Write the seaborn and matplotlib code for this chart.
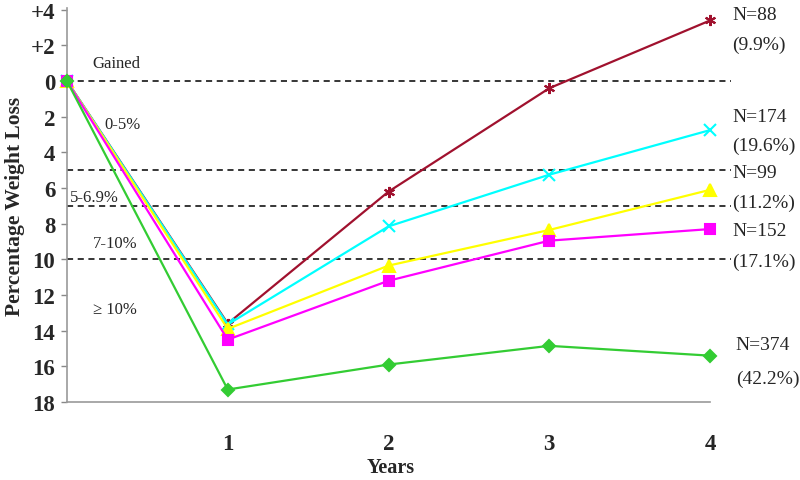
import matplotlib
matplotlib.use("Agg")
import matplotlib.pyplot as plt
import seaborn as sns
import pandas as pd

years = [0, 1, 2, 3, 4]
gained_vals = [0, 13.6, 6.2, 0.4, -3.4]
loss_0_5 = [0, 13.65, 8.15, 5.25, 2.75]
loss_5_7 = [0, 13.9, 10.35, 8.35, 6.1]
loss_7_10 = [0, 14.5, 11.2, 8.95, 8.3]
loss_10 = [0, 17.3, 15.9, 14.85, 15.4]

series_names = ["N=88", "N=174", "N=99", "N=152", "N=374"]
series_pcts = ["(9.9%)", "(19.6%)", "(11.2%)", "(17.1%)", "(42.2%)"]
series_vals = [gained_vals, loss_0_5, loss_5_7, loss_7_10, loss_10]
colors = ["#A0112E", "#00FFFF", "#FFFF00", "#FF00FF", "#33CC33"]
markers = [(6, 2, 0), "x", "^", "s", "D"]
marker_sizes = [8, 8, 8, 7, 6]

zone_bounds = [0, 5, 7, 10]
zone_labels = ["Gained", "0-5%", "5-6.9%", "7-10%", "\u2265 10%"]
zone_label_y = [-1.0, 2.4, 6.5, 9.1, 12.8]
zone_label_x = [0.16, 0.23, 0.02, 0.16, 0.16]

ytick_vals = [-4, -2, 0, 2, 4, 6, 8, 10, 12, 14, 16, 18]
ytick_labels = ["+4", "+2", "0", "2", "4", "6", "8", "10", "12", "14", "16", "18"]
xtick_vals = [1, 2, 3, 4]

sns.set_style("white")
plt.rcParams["font.family"] = ["Liberation Serif", "DejaVu Serif"]

fig = plt.figure(figsize=(8, 4.81), dpi=100)
ax = fig.add_axes([67 / 800, 1 - 403 / 481, (710 - 67) / 800, (403 - 9) / 481])

for name, vals, c, m, ms in zip(series_names, series_vals, colors, markers, marker_sizes):
    df = pd.DataFrame({"Year": years, "Loss": vals})
    sns.lineplot(data=df, x="Year", y="Loss", ax=ax, color=c, marker=m,
                 markersize=ms, markeredgecolor=c, markeredgewidth=1.5,
                 linewidth=1.6, clip_on=False, zorder=3)

for b in zone_bounds:
    ax.axhline(b, xmin=0, xmax=1.033, color="black", linestyle=(0, (4, 3)),
               linewidth=1.1, clip_on=False, zorder=2)

for lab, lx, ly in zip(zone_labels, zone_label_x, zone_label_y):
    ax.text(lx, ly, lab, fontsize=12, ha="left", va="center")

# N labels on the right
n_label_pos = [(-3.75, -2.05), (2.0, 3.6), (5.1, 6.8), (8.4, 10.1), (14.8, 16.7)]
n_label_x = [4.14, 4.14, 4.14, 4.14, 4.16]
for name, pct, (y1, y2), nx in zip(series_names, series_pcts, n_label_pos, n_label_x):
    ax.text(nx, y1, name, fontsize=14, ha="left", va="center", clip_on=False)
    ax.text(nx, y2, pct, fontsize=14, ha="left", va="center", clip_on=False)

ax.set_xlim(0, 4)
ax.set_ylim(18, -4.1)
ax.set_yticks(ytick_vals)
ax.set_yticklabels(ytick_labels, fontsize=16.5, fontweight="bold")
ax.set_xticks(xtick_vals)
ax.set_xticklabels([str(v) for v in xtick_vals], fontsize=16.5, fontweight="bold")
ax.tick_params(axis="x", length=0, pad=22)
ax.tick_params(axis="y", length=4.5, width=1, color="#888888", pad=4, left=True)

for s in ["top", "right"]:
    ax.spines[s].set_visible(False)
for s in ["left", "bottom"]:
    ax.spines[s].set_color("#999999")
    ax.spines[s].set_linewidth(1.2)

ax.set_xlabel("Years", fontsize=14.5, fontweight="bold", va="center")
ax.xaxis.set_label_coords(0.504, -0.165)
ax.set_ylabel("Percentage Weight Loss", fontsize=15.5, fontweight="bold", labelpad=4)

fig.savefig("out.png", dpi=100)
